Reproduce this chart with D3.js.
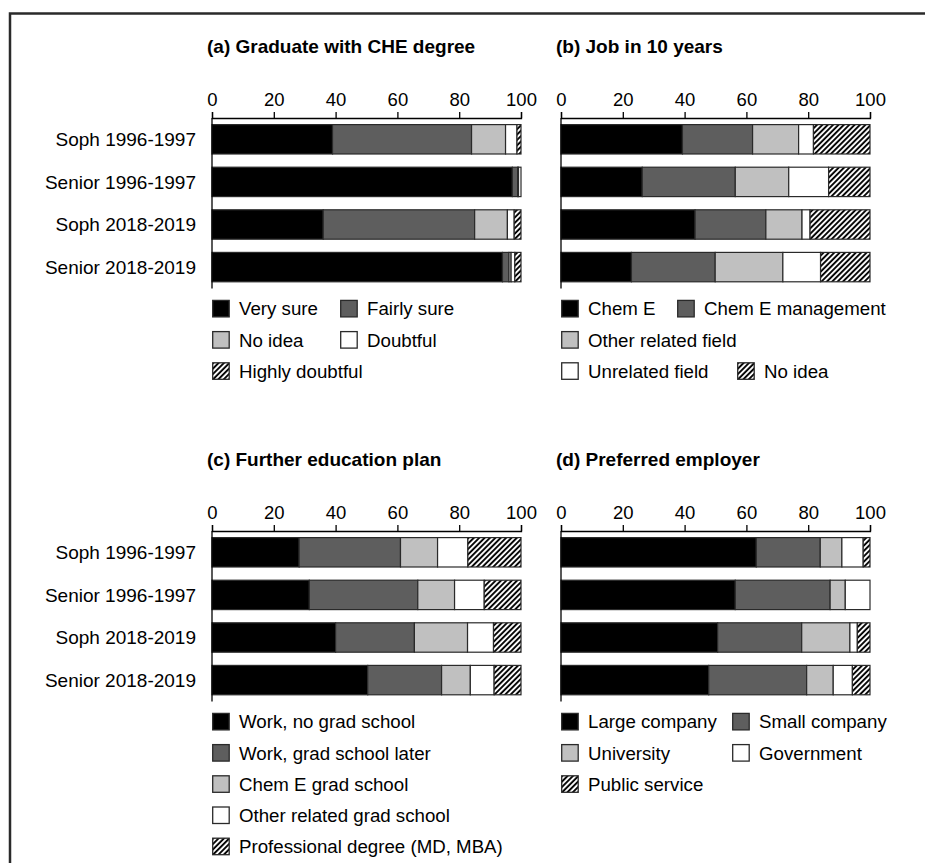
<!DOCTYPE html>
<html>
<head>
<meta charset="utf-8">
<script src="https://cdn.jsdelivr.net/npm/d3@7"></script>
<style>
  body { margin: 0; background: #fff; }
  svg { display: block; font-family: "Liberation Sans", Arial, sans-serif; }
</style>
</head>
<body>
<div id="chart"></div>
<script>
// Data
const groups = ["Soph 1996-1997", "Senior 1996-1997", "Soph 2018-2019", "Senior 2018-2019"];
const tickValues = [0, 20, 40, 60, 80, 100];

const gradKeys = ["Very sure", "Fairly sure", "No idea", "Doubtful", "Highly doubtful"];
const gradValues = [[39, 45, 11, 3.7, 1.3], [97.2, 1.7, 0.3, 0.8, 0], [36, 49, 10.6, 2.2, 2.2], [94, 2.1, 0.7, 1.2, 2]];

const jobKeys = ["Chem E", "Chem E management", "Other related field", "Unrelated field", "No idea"];
const jobValues = [[39.3, 22.7, 14.9, 4.8, 18.3], [26.3, 30.1, 17.3, 12.9, 13.4], [43.4, 22.9, 11.7, 2.6, 19.4], [22.8, 27.1, 21.9, 12.2, 16]];

const eduKeys = ["Work, no grad school", "Work, grad school later", "Chem E grad school", "Other related grad school", "Professional degree (MD, MBA)"];
const eduValues = [[28.2, 32.8, 12, 9.8, 17.2], [31.5, 35.1, 11.9, 9.6, 11.9], [40, 25.5, 17.2, 8.4, 8.9], [50.4, 23.9, 9.3, 7.7, 8.7]];

const empKeys = ["Large company", "Small company", "University", "Government", "Public service"];
const empValues = [[63.2, 20.7, 7, 6.9, 2.2], [56.4, 30.7, 4.9, 8, 0], [50.7, 27.2, 15.6, 2.4, 4.1], [47.8, 31.7, 8.6, 6.2, 5.7]];

const width = 925;
const height = 863;

const svg = d3.select("#chart")
    .append("svg")
    .attr("width", width)
    .attr("height", height);

// hatch pattern
const defs = svg.append("defs");
const pat = defs.append("pattern")
    .attr("id", "hatch")
    .attr("patternUnits", "userSpaceOnUse")
    .attr("width", 3.8)
    .attr("height", 3.8)
    .attr("patternTransform", "rotate(45)");
pat.append("rect").attr("width", 3.8).attr("height", 3.8).attr("fill", "#fff");
pat.append("line")
    .attr("x1", 1).attr("y1", 0).attr("x2", 1).attr("y2", 3.8)
    .attr("stroke", "#000").attr("stroke-width", 1.9);

const fills = ["#000", "#5e5e5e", "#c0c0c0", "#fff", "url(#hatch)"];

// outer frame
svg.append("rect")
    .attr("x", 10).attr("y", 13.5)
    .attr("width", 940).attr("height", 900)
    .attr("fill", "none")
    .attr("stroke", "#2a2a2a")
    .attr("stroke-width", 2.5);

// legend layouts: [row, x offset]
const panels = [
    { title: "(a) Graduate with CHE degree", keys: gradKeys, values: gradValues, x0: 212, top: 118, labels: true,
      legend: [[0, 0], [0, 128], [1, 0], [1, 128], [2, 0]] },
    { title: "(b) Job in 10 years", keys: jobKeys, values: jobValues, x0: 561, top: 118, labels: false,
      legend: [[0, 0], [0, 116], [1, 0], [2, 0], [2, 176]] },
    { title: "(c) Further education plan", keys: eduKeys, values: eduValues, x0: 212, top: 531, labels: true,
      legend: [[0, 0], [1, 0], [2, 0], [3, 0], [4, 0]] },
    { title: "(d) Preferred employer", keys: empKeys, values: empValues, x0: 561, top: 531, labels: false,
      legend: [[0, 0], [0, 171], [1, 0], [1, 171], [2, 0]] }
];

panels.forEach(function (p) {
    const x = d3.scaleLinear().domain([0, 100]).range([p.x0, p.x0 + 309]);
    const y = d3.scaleBand()
        .domain(groups)
        .range([p.top, p.top + 4 * 42.6])
        .paddingInner(0.31)
        .paddingOuter(0.155);

    const g = svg.append("g");

    // title
    g.append("text")
        .attr("x", p.x0 - 5)
        .attr("y", p.top - 65)
        .style("font-size", "19px")
        .style("font-weight", "bold")
        .text(p.title);

    // build table for stack
    const table = groups.map((grp, i) => {
        const row = { group: grp };
        p.keys.forEach((k, j) => row[k] = p.values[i][j]);
        return row;
    });
    const series = d3.stack().keys(p.keys)(table);

    series.forEach(function (s, si) {
        g.selectAll(null)
            .data(s)
            .enter()
            .append("rect")
            .attr("x", d => x(d[0]))
            .attr("y", d => y(d.data.group))
            .attr("width", d => x(d[1]) - x(d[0]))
            .attr("height", y.bandwidth())
            .attr("fill", fills[si])
            .attr("stroke", "#2a2a2a")
            .attr("stroke-width", d => (d[1] - d[0]) > 0 ? 1.2 : 0);
    });

    // top axis
    const axis = g.append("g")
        .attr("transform", `translate(0,${p.top})`)
        .call(d3.axisTop(x).tickValues(tickValues).tickSize(6).tickPadding(6).tickFormat(d3.format("d")));
    axis.select(".domain").attr("stroke", "#000").attr("stroke-width", 1.3);
    axis.selectAll(".tick line").attr("stroke", "#000").attr("stroke-width", 1.3);
    axis.selectAll(".tick text")
        .style("font-size", "18.5px")
        .style("font-family", "Liberation Sans, Arial, sans-serif")
        .attr("fill", "#000");

    // left axis line
    g.append("line")
        .attr("x1", p.x0).attr("x2", p.x0)
        .attr("y1", p.top).attr("y2", p.top + 4 * 42.6)
        .attr("stroke", "#000")
        .attr("stroke-width", 1.3);

    // category labels
    if (p.labels) {
        g.selectAll(null)
            .data(groups)
            .enter()
            .append("text")
            .attr("x", p.x0 - 16)
            .attr("y", d => y(d) + y.bandwidth() / 2)
            .attr("dy", "0.35em")
            .attr("text-anchor", "end")
            .style("font-size", "19px")
            .text(d => d);
    }

    // legend
    const legTop = p.top + 4 * 42.6 + 12;
    const lg = g.selectAll(".leg")
        .data(p.keys)
        .enter()
        .append("g")
        .attr("transform", (d, i) => `translate(${p.x0 + p.legend[i][1]},${legTop + p.legend[i][0] * 31.2})`);
    lg.append("rect")
        .attr("x", 0.7).attr("y", 0)
        .attr("width", 16.5).attr("height", 16.5)
        .attr("fill", (d, i) => fills[i])
        .attr("stroke", "#2a2a2a")
        .attr("stroke-width", 1.3);
    lg.append("text")
        .attr("x", 27)
        .attr("y", 8.5)
        .attr("dy", "0.35em")
        .style("font-size", "18.7px")
        .text(d => d);
});
</script>
</body>
</html>
